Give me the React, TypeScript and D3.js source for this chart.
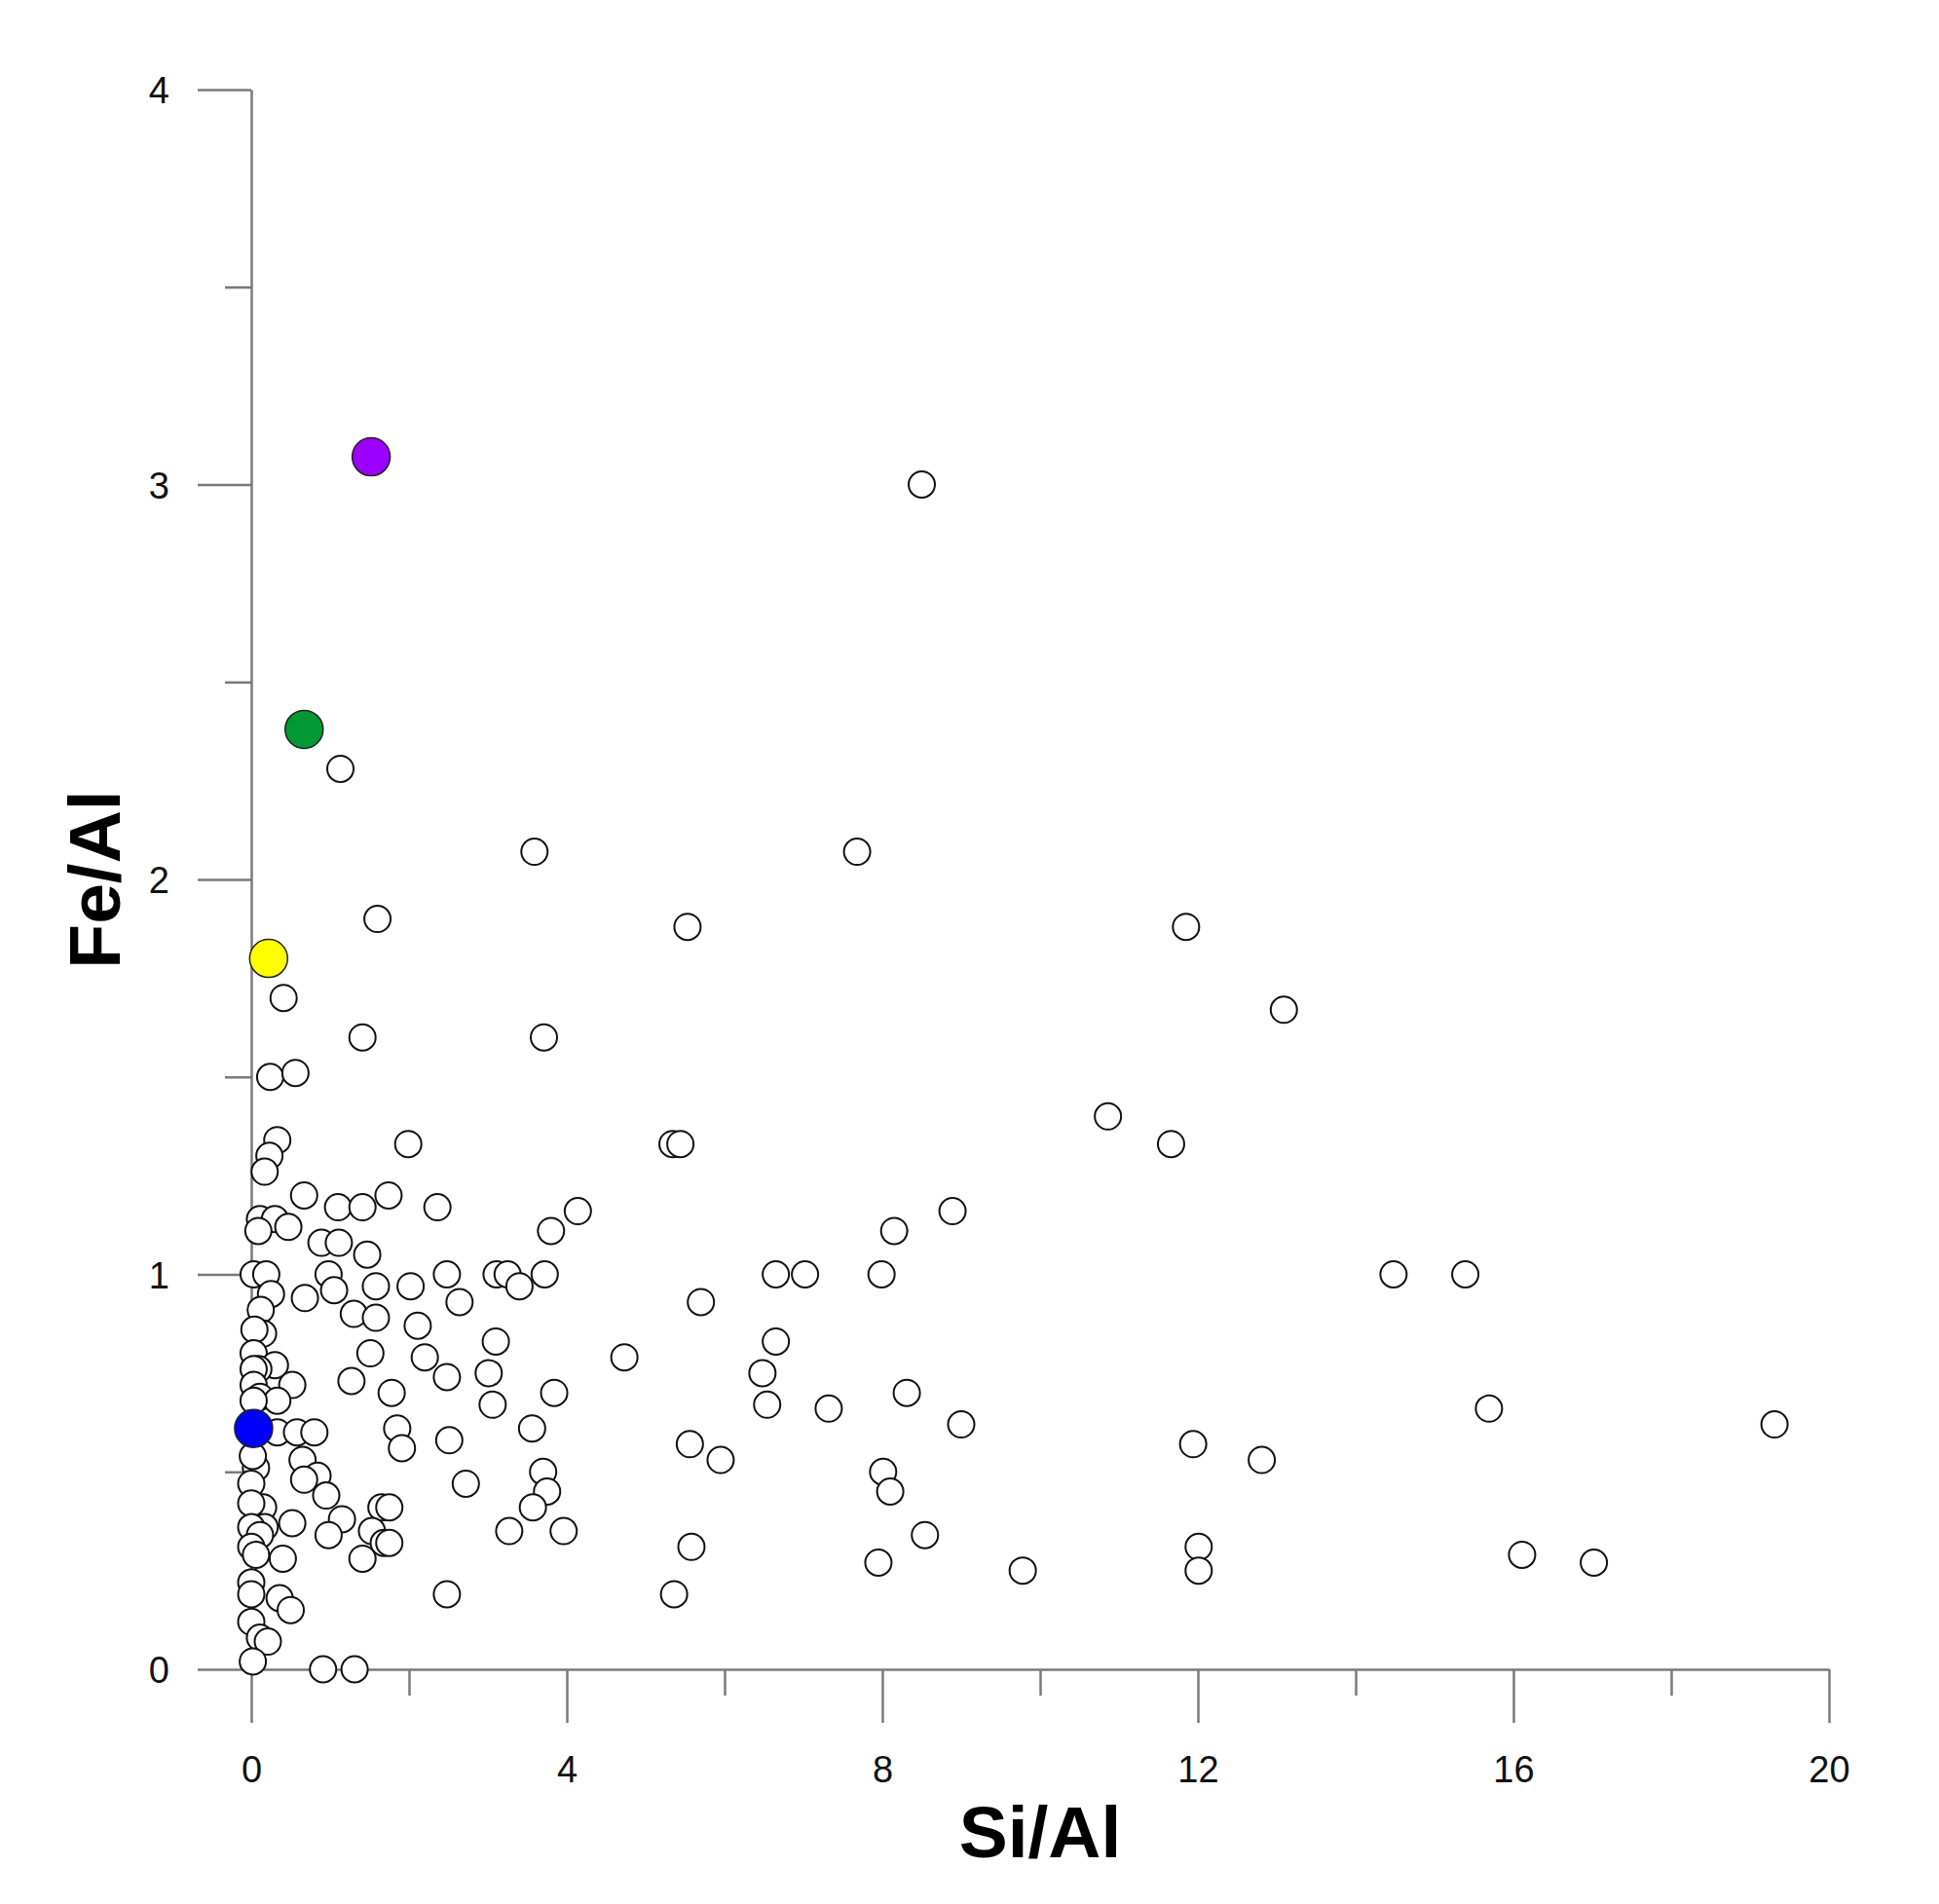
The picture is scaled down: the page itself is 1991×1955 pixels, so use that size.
import { useRef, useEffect } from "react";
import { select, scaleLinear, axisBottom, axisLeft } from "d3";

const WIDTH = 1991;
const HEIGHT = 1955;
const margin = { top: 92, right: 113, bottom: 241, left: 258 };

// white samples: Si/Al and Fe/Al, same order
const siAl = [
  8.5, 1.13, 3.59, 7.68, 1.6, 5.53, 11.85, 13.09, 0.41, 1.41, 3.71, 0.24, 0.56, 10.86, 11.66, 5.34, 5.44, 1.99, 0.33, 0.23,
  0.17, 0.67, 1.74, 1.1, 1.41, 2.36, 4.14, 8.89, 0.11, 0.3, 0.47, 0.09, 3.8, 8.15, 0.89, 1.11, 1.47,
  0.03, 0.19, 0.98, 2.48, 3.11, 3.25, 3.72, 6.65, 7.02, 7.99, 14.48, 15.39,
  1.58, 2.02, 3.4, 1.05, 0.25, 0.68, 2.64, 5.7,
  0.12, 1.3, 1.58, 2.11, 0.15, 0.04, 3.1, 6.65,
  1.51, 0.03, 2.2, 4.73, 0.3, 0.09, 0.03,
  2.48, 3.01, 6.48, 1.27, 0.52, 0.03,
  1.78, 3.84, 8.31, 0.11, 0.33, 0.03,
  3.06, 6.54, 7.32, 15.69,
  3.56, 1.85, 9.0, 19.31,
  0.33, 0.58, 0.8,
  1.91, 2.51, 5.56, 11.94, 5.95, 12.81,
  0.06, 0.65, 0.02, 3.7, 8.01, 0.84,
  0.67, 0.0, 2.72, 0.95, 3.75, 8.1,
  0.15, 0.0, 1.65, 1.75, 3.57,
  0.52, 1.15, 0.17, 0.0,
  0.98, 1.53, 3.27, 3.96, 8.54, 0.11,
  1.68, 1.75, 0.0, 5.58, 12.01,
  0.06, 0.4, 1.41, 16.11, 7.95, 17.02, 9.78, 12.01,
  0.0, 0.0, 0.36, 2.48, 5.36, 0.5,
  0.0, 0.11, 0.21, 0.02, 0.91, 1.31,
];
const feAl = [
  3.0, 2.28, 2.07, 2.07, 1.9, 1.88, 1.88, 1.67, 1.7, 1.6, 1.6, 1.5, 1.51, 1.4, 1.33, 1.33, 1.33, 1.33, 1.34, 1.3,
  1.26, 1.2, 1.2, 1.17, 1.17, 1.17, 1.16, 1.16, 1.14, 1.14, 1.12, 1.11, 1.11, 1.11, 1.08, 1.08, 1.05,
  1.0, 1.0, 1.0, 1.0, 1.0, 1.0, 1.0, 1.0, 1.0, 1.0, 1.0, 1.0,
  0.97, 0.97, 0.97, 0.96, 0.95, 0.94, 0.93, 0.93,
  0.91, 0.9, 0.89, 0.87, 0.85, 0.86, 0.83, 0.83,
  0.8, 0.8, 0.79, 0.79, 0.77, 0.76, 0.76,
  0.74, 0.75, 0.75, 0.73, 0.72, 0.72,
  0.7, 0.7, 0.7, 0.69, 0.68, 0.68,
  0.67, 0.67, 0.66, 0.66,
  0.61, 0.61, 0.62, 0.62,
  0.6, 0.6, 0.6,
  0.56, 0.58, 0.57, 0.57, 0.53, 0.53,
  0.51, 0.53, 0.54, 0.5, 0.5, 0.49,
  0.48, 0.47, 0.47, 0.44, 0.45, 0.45,
  0.41, 0.42, 0.41, 0.41, 0.41,
  0.37, 0.38, 0.36, 0.36,
  0.34, 0.35, 0.35, 0.35, 0.34, 0.34,
  0.32, 0.32, 0.31, 0.31, 0.31,
  0.29, 0.28, 0.28, 0.29, 0.27, 0.27, 0.25, 0.25,
  0.22, 0.19, 0.18, 0.19, 0.19, 0.15,
  0.12, 0.08, 0.07, 0.02, 0.0, 0.0,
];

// highlighted samples
const markedSiAl = [1.52, 0.67, 0.22, 0.03];
const markedFeAl = [3.07, 2.38, 1.8, 0.61];
const markedColors = ["#9b00ff", "#009933", "#ffff00", "#0000ff"];

const xMajor = [0, 4, 8, 12, 16, 20];
const xMinor = [2, 6, 10, 14, 18];
const yMajor = [0, 1, 2, 3, 4];
const yMinor = [0.5, 1.5, 2.5, 3.5];

const FONT = "'Liberation Sans', Arial, sans-serif";
const AXIS_COLOR = "#7a7a7a";

export default function App() {
  const svgRef = useRef<SVGSVGElement>(null);

  useEffect(() => {
    const svg = select(svgRef.current);

    const x = scaleLinear().domain([0, 20]).range([margin.left, WIDTH - margin.right]);
    const y = scaleLinear().domain([0, 4]).range([HEIGHT - margin.bottom, margin.top]);

    // axes
    const styleAxis = (g: any) => {
      g.selectAll("path, line").attr("stroke", AXIS_COLOR).attr("stroke-width", 2.5);
      g.selectAll("text")
        .style("font-family", FONT)
        .style("font-size", "38px")
        .attr("fill", "#111");
    };

    svg.select(".x-axis")
      .attr("transform", `translate(0, ${y(0)})`)
      .call(axisBottom(x).tickValues(xMajor).tickSize(55).tickSizeOuter(0).tickFormat((d: any) => String(d)) as any)
      .call(styleAxis)
      .call((g: any) => g.selectAll("text").attr("y", 116).attr("dy", 0));

    svg.select(".x-minor")
      .attr("transform", `translate(0, ${y(0)})`)
      .call(axisBottom(x).tickValues(xMinor).tickSize(27).tickFormat(() => "") as any)
      .call(styleAxis)
      .call((g: any) => g.select(".domain").remove());

    svg.select(".y-axis")
      .attr("transform", `translate(${x(0)}, 0)`)
      .call(axisLeft(y).tickValues(yMajor).tickSize(55).tickSizeOuter(0).tickFormat((d: any) => String(d)) as any)
      .call(styleAxis)
      .call((g: any) => g.selectAll("text").attr("x", -84).attr("dy", "0.36em"));

    svg.select(".y-minor")
      .attr("transform", `translate(${x(0)}, 0)`)
      .call(axisLeft(y).tickValues(yMinor).tickSize(27).tickFormat(() => "") as any)
      .call(styleAxis)
      .call((g: any) => g.select(".domain").remove());

    // titles
    svg.select(".x-title")
      .attr("x", (x(0) + x(20)) / 2)
      .attr("y", 1907)
      .attr("text-anchor", "middle")
      .style("font-family", FONT)
      .style("font-size", "75px")
      .style("font-weight", "bold")
      .text("Si/Al");

    svg.select(".y-title")
      .attr("transform", `translate(123, ${(y(0) + y(4)) / 2}) rotate(-90)`)
      .attr("text-anchor", "middle")
      .style("font-family", FONT)
      .style("font-size", "75px")
      .style("font-weight", "bold")
      .text("Fe/Al");

    // points
    svg.select(".points")
      .selectAll("circle")
      .data(siAl.map((d, i) => [d, feAl[i]]))
      .join("circle")
      .attr("cx", (d) => x(d[0]))
      .attr("cy", (d) => y(d[1]))
      .attr("r", 13.5)
      .attr("fill", "#fff")
      .attr("stroke", "#111")
      .attr("stroke-width", 2);

    svg.select(".marked")
      .selectAll("circle")
      .data(markedSiAl.map((d, i) => [d, markedFeAl[i], i]))
      .join("circle")
      .attr("cx", (d) => x(d[0]))
      .attr("cy", (d) => y(d[1]))
      .attr("r", 19.5)
      .attr("fill", (d) => markedColors[d[2]])
      .attr("stroke", "#222")
      .attr("stroke-width", 1.5);
  }, []);

  return (
    <svg
      ref={svgRef}
      width={WIDTH}
      height={HEIGHT}
      style={{ position: "absolute", left: 0, top: 0, background: "#fff" }}
    >
      <g className="x-minor" />
      <g className="y-minor" />
      <g className="x-axis" />
      <g className="y-axis" />
      <text className="x-title" />
      <text className="y-title" />
      <g className="points" />
      <g className="marked" />
    </svg>
  );
}
